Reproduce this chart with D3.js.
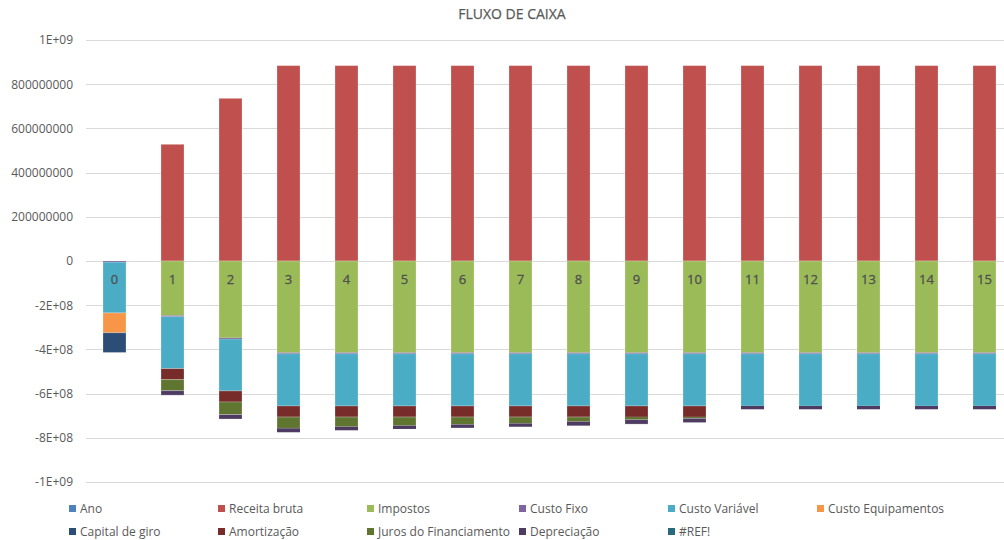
<!DOCTYPE html>
<html>
<head>
<meta charset="utf-8">
<script src="https://cdn.jsdelivr.net/npm/d3@7/dist/d3.min.js"></script>
<style>
  html, body { margin: 0; padding: 0; background: #fff; }
  svg { display: block; font-family: "Open Sans", "Noto Sans", sans-serif; }
</style>
</head>
<body>
<svg id="chart" width="1004" height="540"></svg>
<script>
// ---- Data (values in R$) ----
const years = ["0","1","2","3","4","5","6","7","8","9","10","11","12","13","14","15"];
const ano = [0,1,2,3,4,5,6,7,8,9,10,11,12,13,14,15];
const receitaBruta = [0, 528e6, 736e6, 884e6, 884e6, 884e6, 884e6, 884e6, 884e6, 884e6, 884e6, 884e6, 884e6, 884e6, 884e6, 884e6];
const impostos = [0, -247e6, -348e6, -415e6, -415e6, -415e6, -415e6, -415e6, -415e6, -415e6, -415e6, -415e6, -415e6, -415e6, -415e6, -415e6];
const custoFixo = [-5e6, -5e6, -5e6, -5e6, -5e6, -5e6, -5e6, -5e6, -5e6, -5e6, -5e6, -5e6, -5e6, -5e6, -5e6, -5e6];
const custoVariavel = [-230e6, -235e6, -235e6, -236e6, -236e6, -236e6, -236e6, -236e6, -236e6, -236e6, -236e6, -236e6, -236e6, -236e6, -236e6, -236e6];
const custoEquipamentos = [-90e6, 0, 0, 0, 0, 0, 0, 0, 0, 0, 0, 0, 0, 0, 0, 0];
const capitalDeGiro = [-89e6, 0, 0, 0, 0, 0, 0, 0, 0, 0, 0, 0, 0, 0, 0, 0];
const amortizacao = [0, -50e6, -50e6, -50e6, -50e6, -50e6, -50e6, -50e6, -50e6, -50e6, -50e6, 0, 0, 0, 0, 0];
const jurosFinanciamento = [0, -50e6, -57e6, -51e6, -44e6, -39e6, -34e6, -29e6, -21e6, -12e6, -6e6, 0, 0, 0, 0, 0];
const depreciacao = [0, -20e6, -20e6, -18e6, -16e6, -15e6, -15e6, -15e6, -18e6, -20e6, -19e6, -15e6, -15e6, -15e6, -15e6, -15e6];
const refErro = [0, 0, 0, 0, 0, 0, 0, 0, 0, 0, 0, 0, 0, 0, 0, 0];

const seriesNames = ["Ano","Receita bruta","Impostos","Custo Fixo","Custo Variável","Custo Equipamentos","Capital de giro","Amortização","Juros do Financiamento","Depreciação","#REF!"];
const seriesValues = [ano, receitaBruta, impostos, custoFixo, custoVariavel, custoEquipamentos, capitalDeGiro, amortizacao, jurosFinanciamento, depreciacao, refErro];
const seriesColors = ["#4F81BD","#C0504D","#9BBB59","#8064A2","#4BACC6","#F79646","#2C4D75","#772C2A","#5F7530","#4D3B62","#276A7C"];

const tickValues = [-1e9, -8e8, -6e8, -4e8, -2e8, 0, 2e8, 4e8, 6e8, 8e8, 1e9];
const tickLabels = ["-1E+09","-8E+08","-6E+08","-4E+08","-2E+08","0","200000000","400000000","600000000","800000000","1E+09"];
const chartTitle = "FLUXO DE CAIXA";

// ---- Build table ----
const table = years.map((y, i) => {
  const row = { year: y };
  seriesNames.forEach((n, k) => { row[n] = seriesValues[k][i]; });
  return row;
});

const svg = d3.select("#chart");
const W = 1004, H = 540;

const x = d3.scaleBand().domain(years).range([85.5, 1013.5]).paddingInner(0.6).paddingOuter(0.3);
const y = d3.scaleLinear().domain([-1e9, 1e9]).range([482, 40]);

// Title
svg.append("text")
  .attr("x", 512).attr("y", 19)
  .attr("text-anchor", "middle")
  .attr("font-size", 14)
  .attr("fill", "#595959")
  .attr("stroke", "#595959")
  .attr("stroke-width", 0.25)
  .text(chartTitle);

// Gridlines
svg.append("g")
  .selectAll("line")
  .data(tickValues)
  .join("line")
  .attr("x1", 86).attr("x2", W)
  .attr("y1", d => Math.round(y(d)) + 0.5)
  .attr("y2", d => Math.round(y(d)) + 0.5)
  .attr("stroke", "#d9d9d9")
  .attr("stroke-width", 1);

// Y axis
const yAxis = d3.axisLeft(y)
  .tickValues(tickValues)
  .tickFormat((d, i) => tickLabels[i])
  .tickSize(0)
  .tickPadding(0);
const yg = svg.append("g").attr("transform", "translate(73,0)").call(yAxis);
yg.select(".domain").remove();
yg.selectAll("text")
  .attr("font-size", 12)
  .attr("fill", "#595959")
  .attr("font-family", "Open Sans, sans-serif");

// Stacks
const stack = d3.stack().keys(seriesNames).offset(d3.stackOffsetDiverging);
const stacked = stack(table);

const barW = 23;
const gBars = svg.append("g");
stacked.forEach((layer, k) => {
  gBars.append("g")
    .attr("fill", seriesColors[k])
    .selectAll("rect")
    .data(layer)
    .join("rect")
    .attr("x", d => x(d.data.year) + x.bandwidth() / 2 - barW / 2)
    .attr("width", barW)
    .attr("y", d => y(Math.max(d[0], d[1])))
    .attr("height", d => Math.abs(y(d[0]) - y(d[1])))
    .attr("stroke", d => Math.abs(y(d[0]) - y(d[1])) > 4 ? "rgba(255,255,255,0.3)" : "none")
    .attr("stroke-width", 0.8);
});

// Year data labels (Ano series)
svg.append("g")
  .selectAll("text")
  .data(table)
  .join("text")
  .attr("x", d => x(d.year) + x.bandwidth() / 2)
  .attr("y", y(0) + 23)
  .attr("text-anchor", "middle")
  .attr("font-size", 13)
  .attr("fill", "#505050")
  .attr("stroke", "#505050")
  .attr("stroke-width", 0.3)
  .text(d => d.year);

// Legend
const legendCols = [69, 218, 367, 519, 668, 817];
const legendRows = [509, 532];
const lg = svg.append("g");
seriesNames.forEach((n, k) => {
  const col = k % 6, row = Math.floor(k / 6);
  const lx = legendCols[col], ly = legendRows[row];
  lg.append("rect")
    .attr("x", lx).attr("y", ly - 4)
    .attr("width", 7).attr("height", 7)
    .attr("fill", seriesColors[k]);
  lg.append("text")
    .attr("x", lx + 11).attr("y", ly + 4)
    .attr("font-size", 12)
    .attr("fill", "#595959")
    .text(n);
});
</script>
</body>
</html>
